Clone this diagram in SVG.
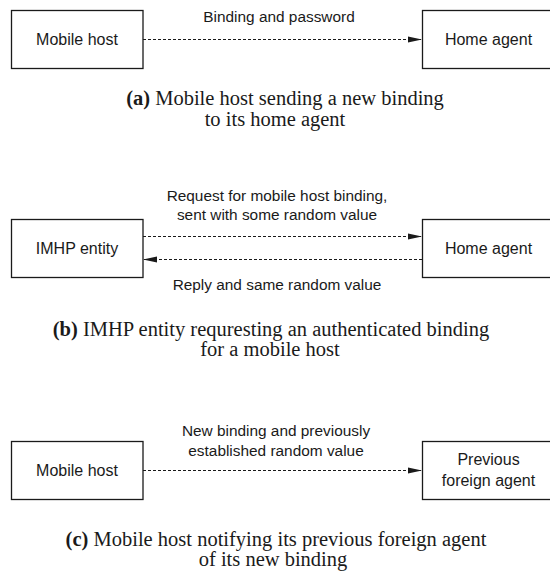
<svg xmlns="http://www.w3.org/2000/svg" width="550" height="573" viewBox="0 0 550 573">
  <style>
    .box { fill: #ffffff; stroke: #1a1a1a; stroke-width: 1.3; }
    .node-label { font-family: "Liberation Sans", Arial, sans-serif; font-size: 16px; fill: #1a1a1a; text-anchor: middle; }
    .msg-label { font-family: "Liberation Sans", Arial, sans-serif; font-size: 15.4px; fill: #1a1a1a; text-anchor: middle; }
    .caption { font-family: "Liberation Serif", "Times New Roman", serif; font-size: 20.5px; fill: #1a1a1a; text-anchor: middle; }
    .caption .tag { font-weight: bold; }
    .link { fill: none; stroke: #1a1a1a; stroke-width: 1.1; stroke-dasharray: 3 2; }
  </style>
  <defs>
    <marker id="arrow" markerUnits="userSpaceOnUse" markerWidth="14" markerHeight="8" refX="14" refY="4" orient="auto">
      <path d="M0,1 L14,4 L0,7 Z" fill="#1a1a1a"/>
    </marker>
  </defs>

  <rect width="550" height="573" fill="#ffffff"/>

  <!-- (a) binding update to the home agent -->
  <g id="a-mobile-host">
    <rect class="box" x="11.5" y="10.5" width="131.5" height="58"/>
    <text class="node-label" x="77" y="45">Mobile host</text>
  </g>
  <g id="a-home-agent">
    <rect class="box" x="422.5" y="10.5" width="140" height="58"/>
    <text class="node-label" x="488.5" y="45">Home agent</text>
  </g>

  <!-- (b) authenticated binding request -->
  <g id="b-imhp-entity">
    <rect class="box" x="11.5" y="219.5" width="131.5" height="58"/>
    <text class="node-label" x="77" y="254">IMHP entity</text>
  </g>
  <g id="b-home-agent">
    <rect class="box" x="422.5" y="219.5" width="140" height="58"/>
    <text class="node-label" x="488.5" y="254">Home agent</text>
  </g>

  <!-- (c) notification of the previous foreign agent -->
  <g id="c-mobile-host">
    <rect class="box" x="11.5" y="441.5" width="131.5" height="58"/>
    <text class="node-label" x="77" y="476">Mobile host</text>
  </g>
  <g id="c-foreign-agent">
    <rect class="box" x="422.5" y="441.5" width="140" height="58"/>
    <text class="node-label" x="488.5" y="465">Previous</text>
    <text class="node-label" x="488.5" y="486">foreign agent</text>
  </g>

  <g id="connectors">
    <line class="link" x1="143" y1="39.5" x2="422" y2="39.5" marker-end="url(#arrow)"/>
    <text class="msg-label" x="279" y="22">Binding and password</text>

    <line class="link" x1="143" y1="236.5" x2="422" y2="236.5" marker-end="url(#arrow)"/>
    <text class="msg-label" x="277" y="201">Request for mobile host binding,</text>
    <text class="msg-label" x="277" y="220">sent with some random value</text>

    <line class="link" x1="422" y1="259.5" x2="143" y2="259.5" marker-end="url(#arrow)"/>
    <text class="msg-label" x="277" y="290">Reply and same random value</text>

    <line class="link" x1="143" y1="470.5" x2="422" y2="470.5" marker-end="url(#arrow)"/>
    <text class="msg-label" x="276" y="436">New binding and previously</text>
    <text class="msg-label" x="276" y="456">established random value</text>
  </g>

  <!-- sub-figure captions -->
  <text class="caption" x="285" y="105"><tspan class="tag">(a)</tspan>  Mobile host sending a new binding</text>
  <text class="caption" x="275" y="125.5">to its home agent</text>

  <text class="caption" x="271" y="335.5"><tspan class="tag">(b)</tspan>  IMHP entity requresting an authenticated binding</text>
  <text class="caption" x="270" y="356">for a mobile host</text>

  <text class="caption" x="276" y="545.5"><tspan class="tag">(c)</tspan>  Mobile host notifying its previous foreign agent</text>
  <text class="caption" x="273" y="566">of its new binding</text>
</svg>
